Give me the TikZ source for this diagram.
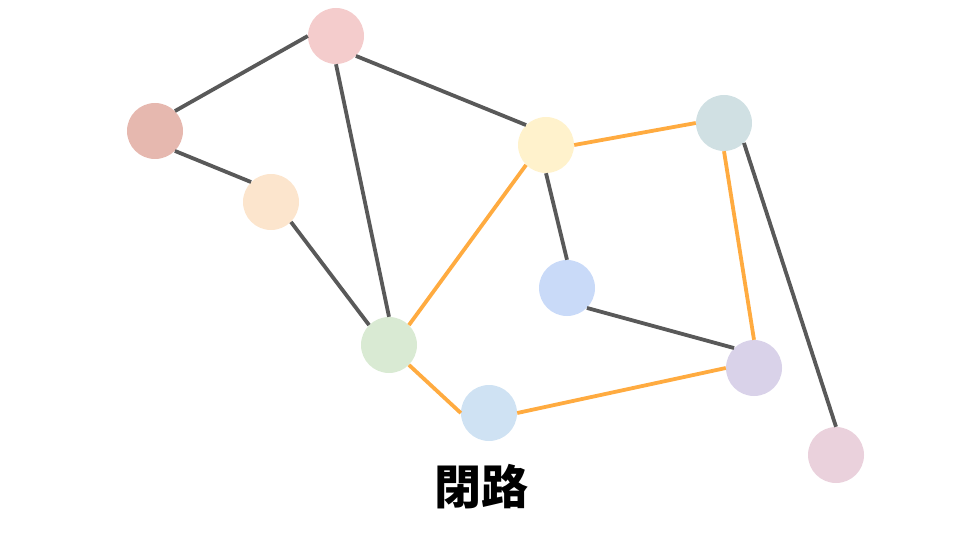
\documentclass[tikz,border=0pt]{standalone}
\usepackage{fontspec}
\newfontfamily\cjk{Noto Sans CJK JP}
\usetikzlibrary{positioning}
\definecolor{edgegray}{HTML}{595959}
\definecolor{pathorange}{HTML}{FFAB40}
\tikzset{
  vertex/.style={circle, draw=none, minimum size=56pt, inner sep=0pt},
  plain/.style={edgegray, line width=3.8pt},
  cycle/.style={pathorange, line width=3.8pt}
}

\begin{document}
\begin{tikzpicture}[x=1pt, y=-1pt]
            \useasboundingbox (0,0) rectangle (960,540);
            \node[vertex, fill={rgb,255:red,244;green,204;blue,204}] (top) at (336,36) {};
            \node[vertex, fill={rgb,255:red,230;green,184;blue,175}] (left) at (155,131) {};
            \node[vertex, fill={rgb,255:red,252;green,229;blue,205}] (peach) at (271,202) {};
            \node[vertex, fill={rgb,255:red,255;green,242;blue,204}] (yellow) at (546,145) {};
            \node[vertex, fill={rgb,255:red,208;green,224;blue,227}] (teal) at (724,123) {};
            \node[vertex, fill={rgb,255:red,201;green,218;blue,248}] (blue) at (567,288) {};
            \node[vertex, fill={rgb,255:red,217;green,234;blue,211}] (green) at (389,345) {};
            \node[vertex, fill={rgb,255:red,207;green,226;blue,243}] (sky) at (489,413) {};
            \node[vertex, fill={rgb,255:red,217;green,210;blue,233}] (purple) at (754,368) {};
            \node[vertex, fill={rgb,255:red,234;green,209;blue,220}] (rose) at (836,455) {};
            \foreach \a/\b in {top.west/left.north east, top.south east/yellow.north west,
                               top.south/green.north, left.south east/peach.north west,
                               peach.south east/green.north west, yellow.south/blue.north,
                               blue.south east/purple.north west, teal.south east/rose.north} {
                \draw[plain] (\a) -- (\b);
            }
            \foreach \a/\b in {yellow.east/teal.west, yellow.south west/green.north east,
                               green.south east/sky.west, sky.east/purple.west,
                               purple.north/teal.south} {
                \draw[cycle] (\a) -- (\b);
            }
            \node[font=\cjk\bfseries\fontsize{47}{51}\selectfont] (caption) at (481,487) {閉路};
        \end{tikzpicture}
\end{document}
